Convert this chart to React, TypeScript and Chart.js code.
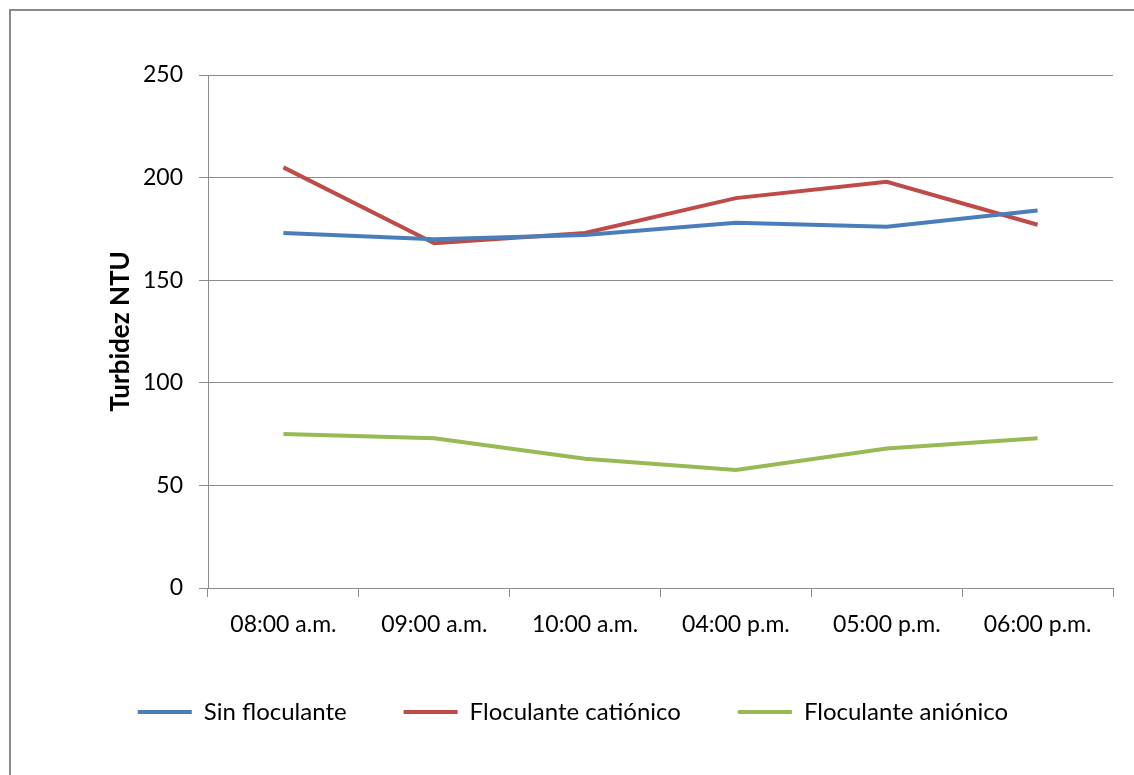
import React, { useEffect, useRef } from "react";
import { Chart, registerables } from "chart.js";

Chart.register(...registerables);

const categories = ["08:00 a.m.", "09:00 a.m.", "10:00 a.m.", "04:00 p.m.", "05:00 p.m.", "06:00 p.m."];
const sinFloculante = [173, 170, 172, 178, 176, 184];
const floculanteCationico = [205, 168, 173, 190, 198, 177];
const floculanteAnionico = [75, 73, 63, 57.5, 68, 73];
const seriesNames = ["Sin floculante", "Floculante catiónico", "Floculante aniónico"];
const yTicks = [0, 50, 100, 150, 200, 250];

const FONT = "Lato, 'Open Sans', sans-serif";
const GRID = "#8c8c8c";

export default function App() {
  const ref = useRef<HTMLCanvasElement | null>(null);

  useEffect(() => {
    if (!ref.current) return;
    const colors = ["#4A7EBB", "#BE4B48", "#98B954"];
    const data = [sinFloculante, floculanteCationico, floculanteAnionico];
    const chart = new Chart(ref.current, {
      type: "line",
      data: {
        labels: categories,
        datasets: data.map((d, i) => ({
          label: seriesNames[i],
          data: d,
          borderColor: colors[i],
          backgroundColor: colors[i],
          borderWidth: 4,
          pointRadius: 0,
          tension: 0,
        })),
      },
      options: {
        animation: false,
        responsive: false,
        layout: { padding: { left: 33, right: 21, top: 75, bottom: 41 } },
        plugins: {
          tooltip: { enabled: false },
          legend: {
            position: "bottom",
            labels: {
              color: "#000",
              font: { family: FONT, size: 24 },
              boxWidth: 54,
              boxHeight: 4,
              padding: 57,
              generateLabels: (c: any) =>
                c.data.datasets.map((ds: any, i: number) => ({
                  text: ds.label,
                  fillStyle: ds.borderColor,
                  strokeStyle: ds.borderColor,
                  lineWidth: 0,
                  datasetIndex: i,
                  hidden: false,
                  fontColor: "#000",
                })),
            },
          },
        },
        scales: {
          x: {
            offset: true,
            grid: {
              offset: true,
              drawOnChartArea: false,
              drawTicks: true,
              tickLength: 9,
              color: GRID,
            },
            border: { color: GRID, width: 1 },
            ticks: { color: "#000", font: { family: FONT, size: 23 }, padding: 14, maxRotation: 0 },
            afterFit: (s: any) => {
              s.height = 55;
            },
          },
          y: {
            min: 0,
            max: 250,
            afterBuildTicks: (s: any) => {
              s.ticks = yTicks.map((v) => ({ value: v }));
            },
            grid: { color: GRID, tickLength: 9, lineWidth: 1 },
            border: { color: GRID, width: 1 },
            ticks: { color: "#000", font: { family: FONT, size: 23 }, padding: 16 },
            title: {
              display: true,
              text: "Turbidez NTU",
              color: "#000",
              font: { family: FONT, size: 26, weight: "bold" },
              padding: { top: 72, bottom: 0 },
            },
            afterFit: (s: any) => {
              s.width = 175;
            },
          },
        },
      },
    });
    return () => chart.destroy();
  }, []);

  return (
    <div style={{ position: "fixed", left: 0, top: 0, width: 1134, height: 775, background: "#fff", overflow: "hidden" }}>
      <div
        style={{
          position: "absolute",
          left: 9,
          top: 9,
          width: 1200,
          height: 900,
          border: "2px solid #8a8a8a",
        }}
      />
      <canvas ref={ref} width={1134} height={775} style={{ position: "absolute", left: 0, top: 0 }} />
    </div>
  );
}
